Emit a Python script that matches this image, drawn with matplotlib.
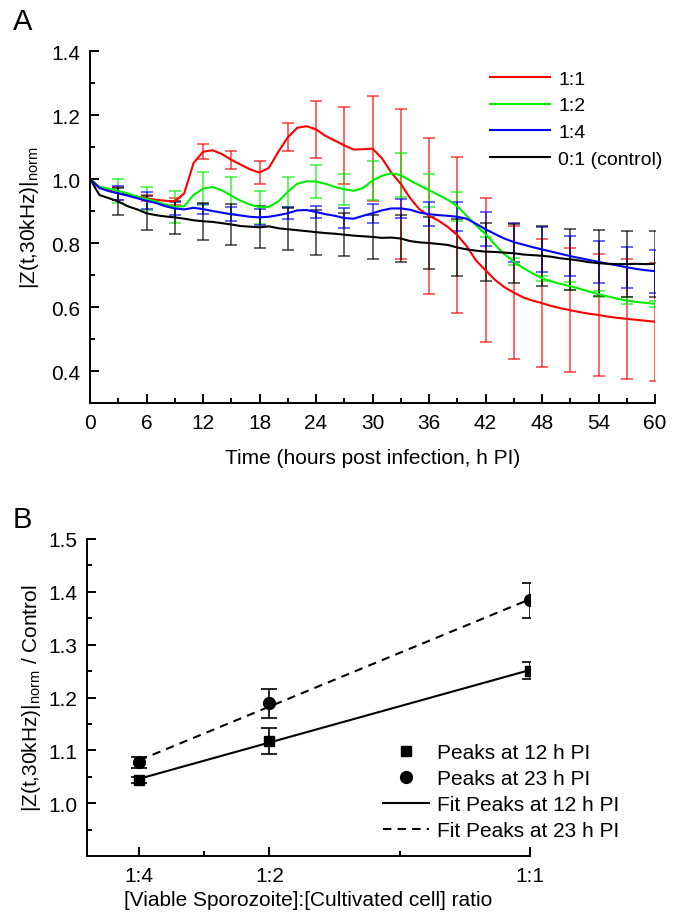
import numpy as np
import matplotlib
matplotlib.use('Agg')
import matplotlib.pyplot as plt
from matplotlib.ticker import MultipleLocator, FixedLocator

plt.rcParams['font.family'] = ['Liberation Sans', 'DejaVu Sans']
plt.rcParams['mathtext.fontset'] = 'custom'
plt.rcParams['mathtext.rm'] = 'Liberation Sans'
plt.rcParams['mathtext.it'] = 'Liberation Sans:italic'
plt.rcParams['font.size'] = 15

# ---- panel A data (normalised impedance, every hour) ----
hours = list(range(61))
ratio_1_1 = [1.000, 0.975, 0.965, 0.955, 0.950, 0.945, 0.940, 0.935, 0.932, 0.930,
             0.955, 1.050, 1.085, 1.090, 1.078, 1.060, 1.045, 1.030, 1.020, 1.035,
             1.085, 1.130, 1.160, 1.165, 1.155, 1.135, 1.120, 1.105, 1.092, 1.093,
             1.095, 1.065, 1.020, 0.985, 0.940, 0.905, 0.885, 0.870, 0.850, 0.825,
             0.790, 0.745, 0.715, 0.685, 0.662, 0.645, 0.630, 0.620, 0.612, 0.603,
             0.596, 0.590, 0.584, 0.579, 0.575, 0.570, 0.566, 0.563, 0.560, 0.557,
             0.554]
ratio_1_2 = [1.000, 0.975, 0.970, 0.963, 0.955, 0.945, 0.938, 0.930, 0.920, 0.913,
             0.915, 0.950, 0.970, 0.975, 0.965, 0.948, 0.932, 0.920, 0.912, 0.913,
             0.930, 0.960, 0.985, 0.993, 0.992, 0.985, 0.975, 0.968, 0.963, 0.972,
             0.995, 1.010, 1.018, 1.012, 0.995, 0.980, 0.965, 0.950, 0.935, 0.915,
             0.885, 0.855, 0.828, 0.795, 0.765, 0.742, 0.722, 0.705, 0.690, 0.680,
             0.672, 0.665, 0.657, 0.648, 0.640, 0.633, 0.626, 0.620, 0.616, 0.613,
             0.610]
ratio_1_4 = [1.000, 0.972, 0.962, 0.955, 0.948, 0.940, 0.932, 0.925, 0.915, 0.908,
             0.905, 0.910, 0.906, 0.900, 0.895, 0.890, 0.886, 0.882, 0.880, 0.882,
             0.887, 0.893, 0.902, 0.903, 0.897, 0.890, 0.885, 0.878, 0.876, 0.885,
             0.893, 0.902, 0.908, 0.908, 0.904, 0.895, 0.890, 0.887, 0.885, 0.882,
             0.876, 0.860, 0.843, 0.828, 0.814, 0.803, 0.795, 0.787, 0.780, 0.773,
             0.766, 0.759, 0.753, 0.747, 0.741, 0.735, 0.730, 0.724, 0.719, 0.715,
             0.712]
control = [1.000, 0.950, 0.940, 0.930, 0.915, 0.905, 0.893, 0.887, 0.883, 0.880,
           0.876, 0.871, 0.868, 0.866, 0.862, 0.858, 0.853, 0.851, 0.849, 0.852,
           0.846, 0.843, 0.840, 0.837, 0.834, 0.831, 0.829, 0.826, 0.823, 0.821,
           0.819, 0.816, 0.817, 0.814, 0.806, 0.802, 0.800, 0.797, 0.794, 0.786,
           0.780, 0.776, 0.773, 0.772, 0.770, 0.768, 0.764, 0.762, 0.760, 0.757,
           0.752, 0.749, 0.745, 0.740, 0.737, 0.735, 0.734, 0.734, 0.735, 0.734,
           0.735]

# error bars every 3 h
err_hours = list(range(3, 61, 3))
err_1_1 = [0.020, 0.010, 0.012, 0.024, 0.029, 0.035, 0.044, 0.089, 0.120, 0.165,
           0.234, 0.243, 0.245, 0.225, 0.207, 0.200, 0.194, 0.191, 0.188, 0.185]
err_1_2 = [0.037, 0.036, 0.050, 0.052, 0.057, 0.052, 0.047, 0.051, 0.049, 0.062,
           0.068, 0.052, 0.045, 0.010, 0.010, 0.008, 0.012, 0.010, 0.010, 0.010]
err_1_4 = [0.022, 0.026, 0.020, 0.016, 0.022, 0.025, 0.018, 0.020, 0.030, 0.029,
           0.031, 0.038, 0.045, 0.053, 0.061, 0.070, 0.063, 0.065, 0.064, 0.067]
err_ctrl = [0.042, 0.053, 0.052, 0.058, 0.064, 0.066, 0.066, 0.070, 0.067, 0.068,
            0.073, 0.080, 0.089, 0.091, 0.092, 0.094, 0.095, 0.104, 0.102, 0.104]

series_labels = ['1:1', '1:2', '1:4', '0:1 (control)']
series_colors = ['#ff0000', '#00ee00', '#0000ff', '#000000']

# ---- panel B data ----
ratio = [0.25, 0.5, 1.0]
ratio_labels = ['1:4', '1:2', '1:1']
peak12 = [1.044, 1.118, 1.251]
peak12_err = [0.006, 0.025, 0.016]
peak23 = [1.077, 1.189, 1.384]
peak23_err = [0.010, 0.027, 0.033]


def style_axes(ax):
    for side in ['top', 'right']:
        ax.spines[side].set_visible(False)
    for side in ['left', 'bottom']:
        ax.spines[side].set_linewidth(1.4)
    ax.tick_params(which='major', direction='in', length=6.5, width=1.4, pad=7)
    ax.tick_params(which='minor', direction='in', length=3.6, width=1.4)


fig = plt.figure(figsize=(6.81, 9.2), dpi=100)

# ---------------- panel A ----------------
axA = fig.add_axes([90 / 681, 1 - 404 / 920, 565 / 681, 352 / 920])
all_series = [ratio_1_1, ratio_1_2, ratio_1_4, control]
all_errs = [err_1_1, err_1_2, err_1_4, err_ctrl]
for values, errs, color in zip(all_series, all_errs, series_colors):
    centers = [values[h] for h in err_hours]
    axA.errorbar(err_hours, centers, yerr=errs, fmt='none', ecolor=color,
                 elinewidth=1.2, capsize=4.3, capthick=1.2, alpha=0.7)
for values, color, label in zip(all_series, series_colors, series_labels):
    axA.plot(hours, values, color=color, lw=1.5, label=label)

axA.set_xlim(0, 60)
axA.set_ylim(0.3, 1.4)
axA.xaxis.set_major_locator(MultipleLocator(6))
axA.xaxis.set_minor_locator(MultipleLocator(3))
axA.yaxis.set_major_locator(FixedLocator([0.4, 0.6, 0.8, 1.0, 1.2, 1.4]))
axA.yaxis.set_minor_locator(FixedLocator([0.3, 0.5, 0.7, 0.9, 1.1, 1.3]))
style_axes(axA)
axA.set_xlabel('Time (hours post infection, h PI)', labelpad=12)
axA.set_ylabel(r'|Z(t,30kHz)|$_{\mathrm{norm}}$', labelpad=7)
axA.yaxis.label.set_y(0.53)
axA.legend(loc='upper left', bbox_to_anchor=(490 / 681, 1 - 71 / 920),
           bbox_transform=fig.transFigure, frameon=False, borderpad=0,
           borderaxespad=0, handlelength=3.1, handletextpad=0.4,
           labelspacing=0.47, fontsize=14)
fig.text(13 / 681, 1 - 22 / 920, 'A', fontsize=21, va='center', ha='left')

# ---------------- panel B ----------------
axB = fig.add_axes([87 / 681, 1 - 857 / 920, 443 / 681, 317 / 920])
fit12 = np.polyfit(ratio, peak12, 1)
fit23 = np.polyfit(ratio, peak23, 1)
xfit = np.array([ratio[0], ratio[-1]])
axB.errorbar(ratio, peak12, yerr=peak12_err, fmt='none', ecolor='black',
             elinewidth=1.2, capsize=6, capthick=1.2)
axB.errorbar(ratio, peak23, yerr=peak23_err, fmt='none', ecolor='black',
             elinewidth=1.2, capsize=6, capthick=1.2)
axB.plot(ratio, peak12, 's', color='black', ms=6.5, label='Peaks at 12 h PI')
axB.plot(ratio, peak23, 'o', color='black', ms=8.5, label='Peaks at 23 h PI')
axB.plot(xfit, np.polyval(fit12, xfit), '-', color='black', lw=1.5,
         label='Fit Peaks at 12 h PI')
axB.plot(xfit, np.polyval(fit23, xfit), color='black', lw=1.5,
         linestyle=(0, (4, 3)), label='Fit Peaks at 23 h PI')

axB.set_xlim(0.15, 1.0)
axB.set_ylim(0.9, 1.5)
axB.xaxis.set_major_locator(FixedLocator(ratio))
axB.set_xticklabels(ratio_labels)
axB.xaxis.set_minor_locator(FixedLocator([0.375, 0.75]))
axB.yaxis.set_major_locator(FixedLocator([1.0, 1.1, 1.2, 1.3, 1.4, 1.5]))
axB.yaxis.set_minor_locator(FixedLocator([0.95, 1.05, 1.15, 1.25, 1.35, 1.45]))
style_axes(axB)
axB.set_xlabel('[Viable Sporozoite]:[Cultivated cell] ratio', labelpad=4)
axB.set_ylabel(r'|Z(t,30kHz)|$_{\mathrm{norm}}$ / Control', labelpad=4)
axB.legend(loc='upper left', bbox_to_anchor=(383 / 681, 1 - 744 / 920),
           bbox_transform=fig.transFigure, frameon=False, borderpad=0,
           borderaxespad=0, handlelength=2.2, handletextpad=0.4,
           labelspacing=0.34, fontsize=15, numpoints=1)
fig.text(13 / 681, 1 - 520 / 920, 'B', fontsize=21, va='center', ha='left')

fig.savefig('out.png', dpi=100)
